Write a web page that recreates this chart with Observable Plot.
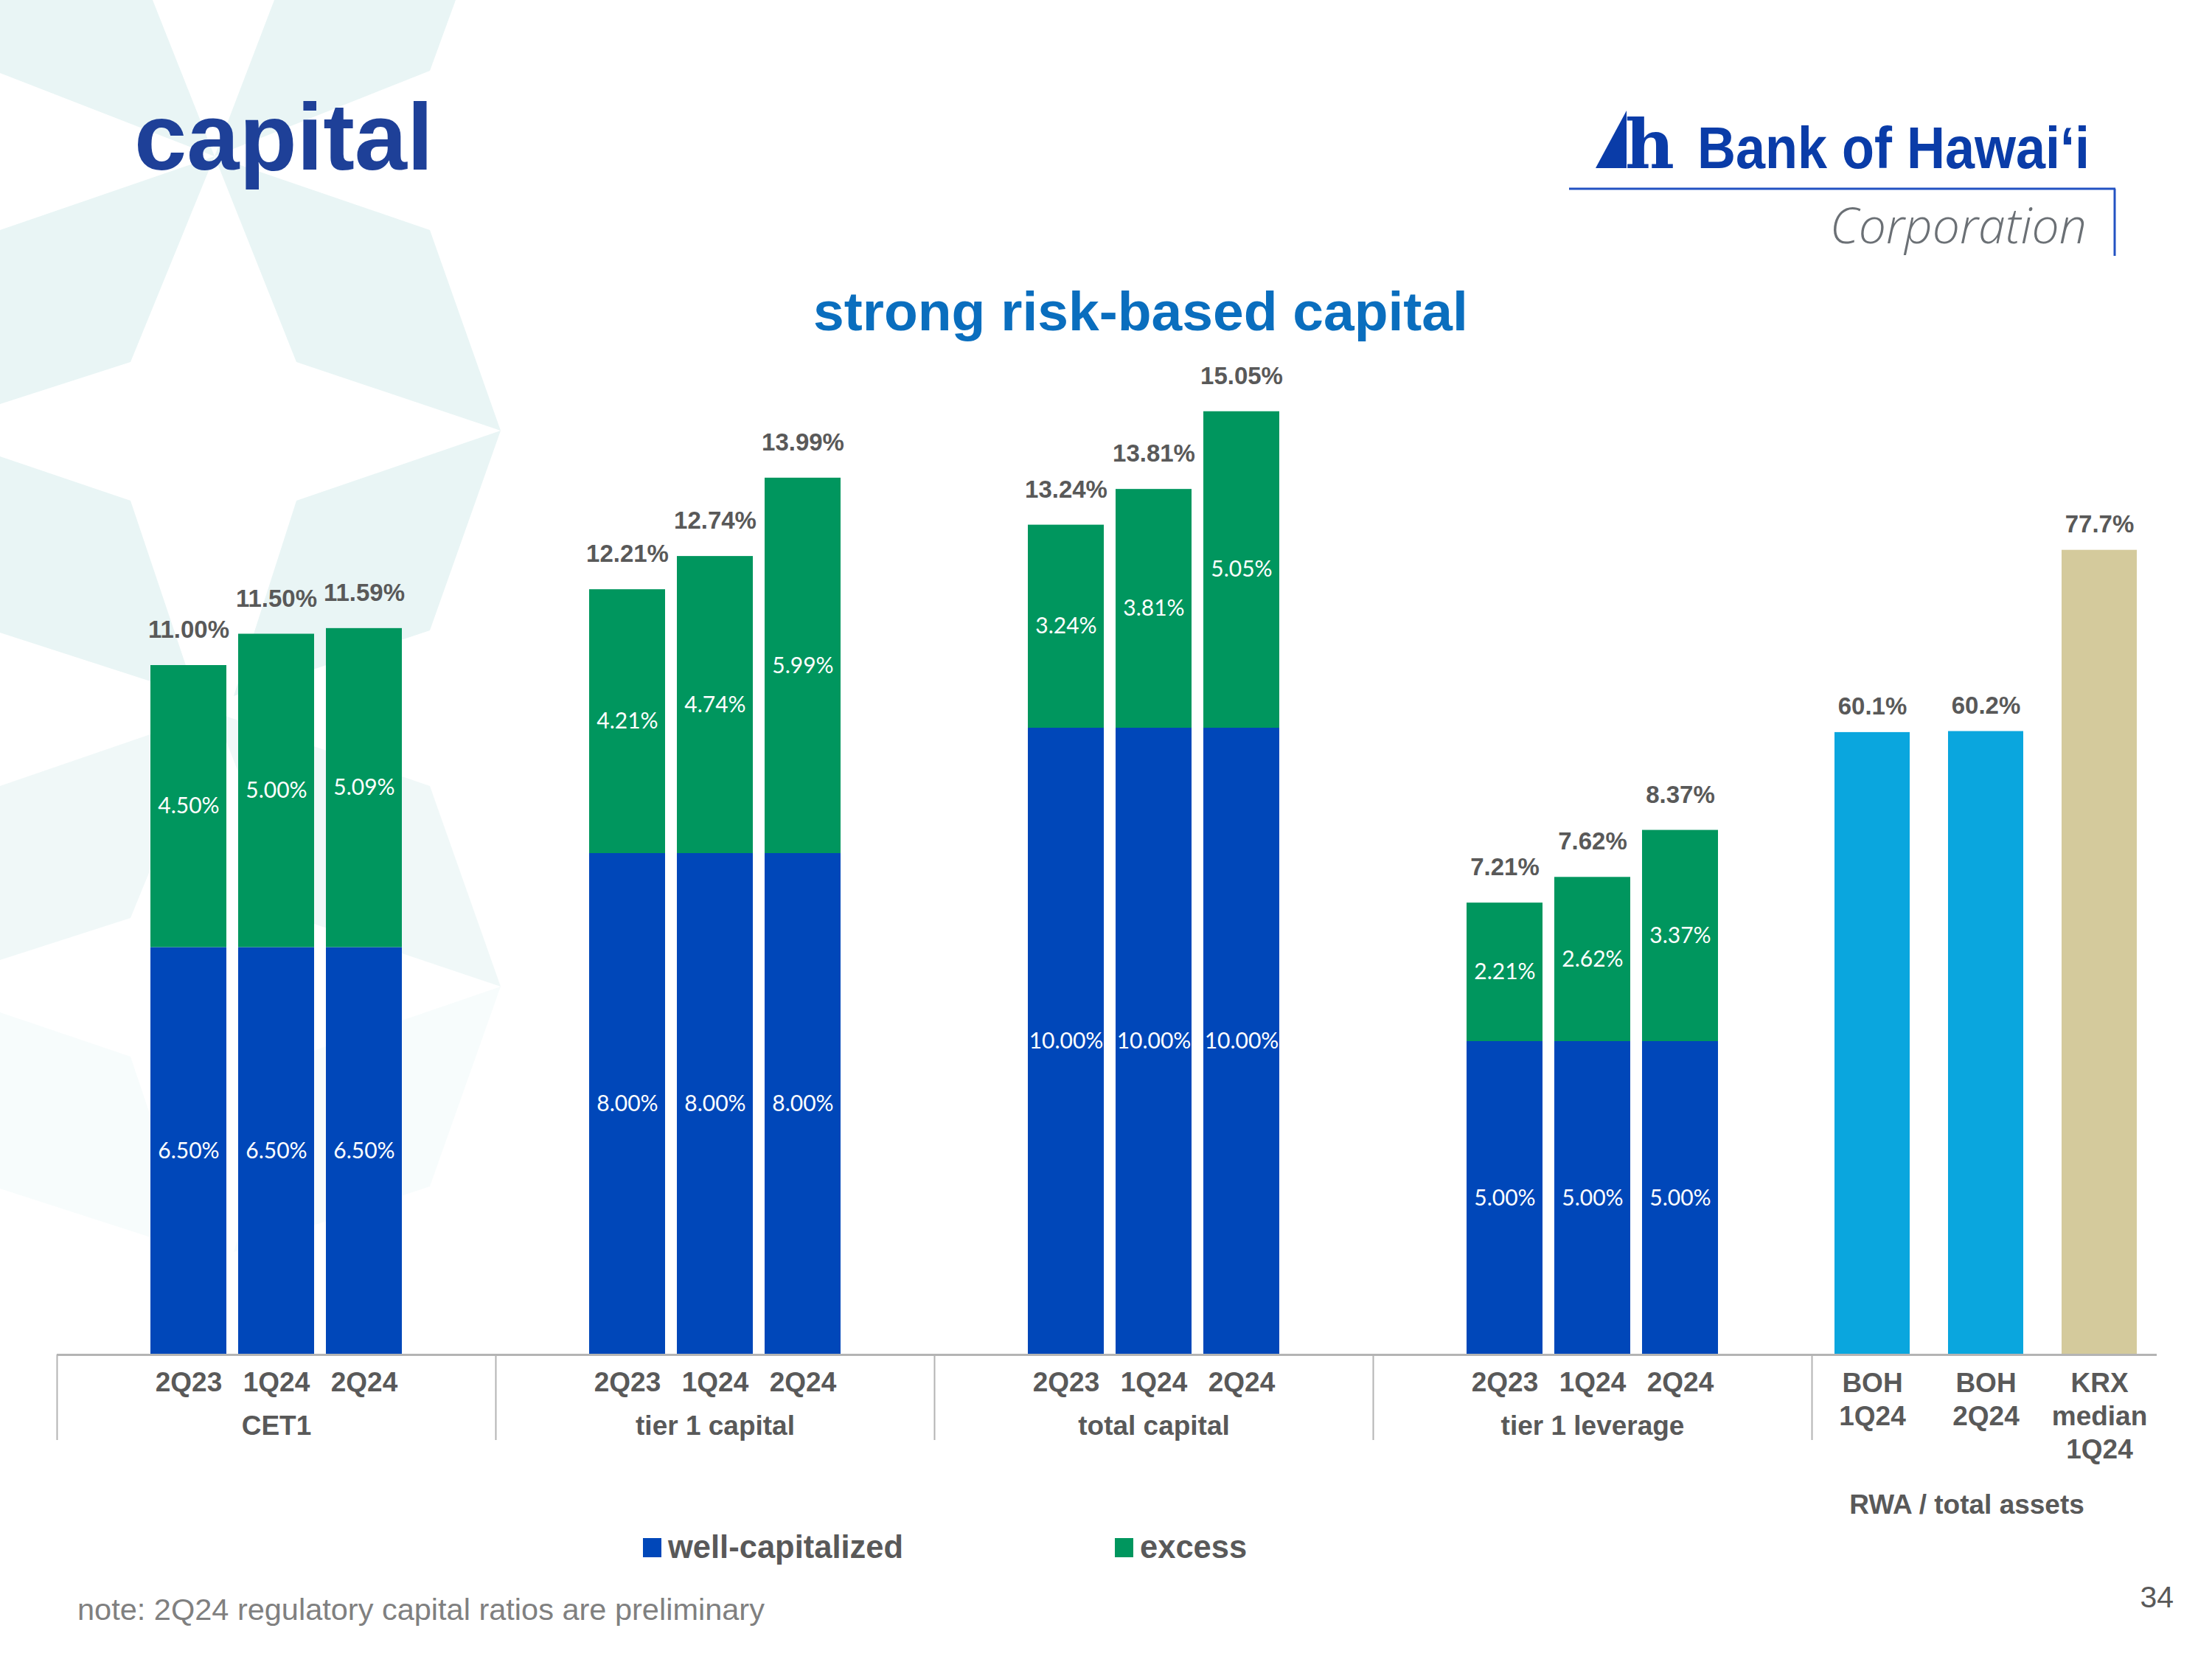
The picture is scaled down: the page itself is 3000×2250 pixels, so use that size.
<!DOCTYPE html>
<html>
<head>
<meta charset="utf-8">
<script src="https://cdn.jsdelivr.net/npm/d3@7"></script>
<script src="https://cdn.jsdelivr.net/npm/@observablehq/plot@0.6"></script>
<style>
  html, body { margin: 0; padding: 0; background: #ffffff; }
  #page { position: relative; width: 3000px; height: 2250px; overflow: hidden; background: #ffffff; font-family: "Liberation Sans", Arial, sans-serif; }
  #page > svg, #page > div { position: absolute; top: 0; }
  #deco { left: 0; top: 0; }
  #main { left: 0; }
  #rwa { left: 2458px; }
</style>
</head>
<body>
<div id="page">
  <svg id="deco" width="3000" height="2250" xmlns="http://www.w3.org/2000/svg"></svg>
  <div id="main"></div>
  <div id="rwa"></div>
</div>
<script>
// ---------------- data ----------------
const groups = ["CET1", "tier 1 capital", "total capital", "tier 1 leverage"];
const periods = ["2Q23", "1Q24", "2Q24"];
const seriesNames = ["well-capitalized", "excess"];
const seriesColors = ["#0047b9", "#00965e"];
const wellCapitalized = [
  [6.50, 6.50, 6.50],
  [8.00, 8.00, 8.00],
  [10.00, 10.00, 10.00],
  [5.00, 5.00, 5.00]
];
const excess = [
  [4.50, 5.00, 5.09],
  [4.21, 4.74, 5.99],
  [3.24, 3.81, 5.05],
  [2.21, 2.62, 3.37]
];
const totals = [
  [11.00, 11.50, 11.59],
  [12.21, 12.74, 13.99],
  [13.24, 13.81, 15.05],
  [7.21, 7.62, 8.37]
];
const rwaLabels = ["BOH\n1Q24", "BOH\n2Q24", "KRX\nmedian\n1Q24"];
const rwaValues = [60.1, 60.2, 77.7];
const rwaColors = ["#0aa6de", "#0aa6de", "#d4ca9c"];
const rwaTitle = "RWA / total assets";
const titleText = "capital";
const subtitleText = "strong risk-based capital";
const noteText = "note: 2Q24 regulatory capital ratios are preliminary";
const pageNumber = "34";

// ---------------- layout constants ----------------
const H = 2250;
const BASE = 1837;          // baseline of the bars
const MT = 477;             // top margin (y domain 0..16)
const MB = H - BASE;
const MAIN_W = 2458, MAIN_ML = 77;
const SLOT = (MAIN_W - MAIN_ML) / 20;
const GRAY = "#595959";
const AXIS = "#b4b4b4";
const RWA_RATIO = 6.052;    // secondary axis scale relative to main

const fmt2 = v => v.toFixed(2) + "%";
const fmt1 = v => v.toFixed(1) + "%";

// ---------------- table rows ----------------
const slots = groups.flatMap(g => ["pre", ...periods, "post"].map(p => g + "|" + p));
const rows = [];
seriesNames.forEach((s, k) => {
  const src = k === 0 ? wellCapitalized : excess;
  groups.forEach((g, i) => periods.forEach((p, j) => {
    rows.push({key: g + "|" + p, series: s, value: src[i][j]});
  }));
});
const totalRows = groups.flatMap((g, i) => periods.map((p, j) => ({key: g + "|" + p, period: p, total: totals[i][j]})));
const rwaRows = rwaLabels.map((l, i) => ({label: l, value: rwaValues[i], color: rwaColors[i]}));

const baseStyle = {background: "transparent", overflow: "visible", fontFamily: "'Liberation Sans', Arial, sans-serif"};

// ---------------- main chart ----------------
const main = Plot.plot({
  width: MAIN_W, height: H,
  marginTop: MT, marginBottom: MB, marginLeft: MAIN_ML, marginRight: 0,
  style: baseStyle,
  x: {type: "band", domain: slots, paddingInner: 0.134, paddingOuter: 0.067, axis: null},
  y: {domain: [0, 16], axis: null},
  color: {domain: seriesNames, range: seriesColors},
  marks: [
    Plot.barY(rows, {x: "key", y: "value", fill: "series"}),
    Plot.text(rows, Plot.stackY({x: "key", y: "value", text: d => fmt2(d.value), fill: "#ffffff",
      fontSize: 30, fontFamily: "Lato, 'Open Sans', sans-serif"})),
    Plot.text(totalRows, {x: "key", y: "total", text: d => fmt2(d.total), dy: -48,
      fontSize: 33, fontWeight: "bold", fill: GRAY}),
    Plot.ruleY([0], {stroke: AXIS, strokeWidth: 3}),
    Plot.ruleX(groups, {x: g => g + "|pre", dx: -SLOT / 2, y1: 0, y2: 0, insetBottom: -116, stroke: AXIS, strokeWidth: 2}),
    Plot.ruleX([groups[groups.length - 1]], {x: g => g + "|post", dx: SLOT / 2, y1: 0, y2: 0, insetBottom: -116, stroke: AXIS, strokeWidth: 2}),
    Plot.text(totalRows, {x: "key", text: "period", frameAnchor: "bottom", lineAnchor: "middle", dy: 38,
      fontSize: 37, fontWeight: "bold", fill: GRAY}),
    Plot.text(groups, {x: g => g + "|1Q24", text: d => d, frameAnchor: "bottom", lineAnchor: "middle", dy: 97,
      fontSize: 37, fontWeight: "bold", fill: GRAY})
  ]
});
document.getElementById("main").appendChild(main);

// ---------------- RWA chart ----------------
const rwa = Plot.plot({
  width: 3000 - MAIN_W, height: H,
  marginTop: MT, marginBottom: MB, marginLeft: 3, marginRight: 75,
  style: baseStyle,
  x: {type: "band", domain: rwaLabels, paddingInner: 0.335, paddingOuter: 0.1675, axis: null},
  y: {domain: [0, 16 * RWA_RATIO], axis: null},
  marks: [
    Plot.barY(rwaRows, {x: "label", y: "value", fill: "color"}),
    Plot.text(rwaRows, {x: "label", y: "value", text: d => fmt1(d.value), dy: -35,
      fontSize: 33, fontWeight: "bold", fill: GRAY}),
    Plot.ruleY([0], {stroke: AXIS, strokeWidth: 3, insetLeft: -3}),
    Plot.text(rwaRows, {x: "label", text: "label", frameAnchor: "bottom", lineAnchor: "top", dy: 19,
      lineHeight: 1.216, fontSize: 37, fontWeight: "bold", fill: GRAY}),
    Plot.text([rwaTitle], {text: d => d, frameAnchor: "bottom", lineAnchor: "middle", dx: -26, dy: 204,
      fontSize: 37, fontWeight: "bold", fill: GRAY})
  ]
});
document.getElementById("rwa").appendChild(rwa);

// ---------------- decoration: background star, title, logo, legend, note ----------------
const deco = d3.select("#deco");
const teal = "#e9f5f5";
const polys = [
  {o: 1, p: [[0,0],[207,0],[291,212],[0,99]]},
  {o: 1, p: [[372,0],[618,0],[583,96],[291,212]]},
  {o: 1, p: [[291,212],[583,312],[679,584],[402,491]]},
  {o: 1, p: [[0,312],[291,212],[177,491],[0,548]]},
  {o: 1, p: [[402,679],[679,584],[583,855],[317,944]]},
  {o: 1, p: [[0,619],[177,679],[266,944],[0,858]]},
  {o: 0.7, p: [[291,966],[583,1066],[679,1338],[402,1245]]},
  {o: 0.7, p: [[0,1066],[291,966],[177,1245],[0,1302]]},
  {o: 0.35, p: [[402,1433],[679,1338],[583,1609],[317,1698]]},
  {o: 0.35, p: [[0,1373],[177,1433],[266,1698],[0,1612]]}
];
deco.selectAll("polygon.bg").data(polys).join("polygon").attr("class", "bg")
  .attr("points", d => d.p.map(p => p.join(",")).join(" "))
  .attr("fill", teal).attr("opacity", d => d.o);

// title
deco.append("text").attr("x", 182).attr("y", 230).text(titleText)
  .attr("font-family", "'Liberation Sans', Arial, sans-serif").attr("font-weight", "bold")
  .attr("font-size", 128).attr("fill", "#1e4098");
// subtitle
deco.append("text").attr("x", 1547).attr("y", 448).attr("text-anchor", "middle").text(subtitleText)
  .attr("font-family", "'Liberation Sans', Arial, sans-serif").attr("font-weight", "bold")
  .attr("font-size", 75).attr("fill", "#0a6ebe");

// logo
const logoBlue = "#0a3ca8";
deco.append("polygon").attr("points", "2164,228 2206,228 2206,150").attr("fill", logoBlue);
deco.append("text").attr("x", 2204).attr("y", 228).text("h")
  .attr("font-family", "'DejaVu Serif', serif").attr("font-weight", "bold")
  .attr("font-size", 92).attr("fill", logoBlue);
deco.append("text").attr("transform", "translate(2302,228) scale(0.9,1)").text("Bank of Hawaiʻi")
  .attr("font-family", "'Liberation Sans', Arial, sans-serif").attr("font-weight", "bold")
  .attr("font-size", 80).attr("fill", logoBlue);
deco.append("line").attr("x1", 2128).attr("x2", 2869).attr("y1", 256).attr("y2", 256)
  .attr("stroke", "#2352c2").attr("stroke-width", 3);
deco.append("line").attr("x1", 2868).attr("x2", 2868).attr("y1", 256).attr("y2", 347)
  .attr("stroke", "#2352c2").attr("stroke-width", 3);
deco.append("text").attr("x", 2830).attr("y", 330).attr("text-anchor", "end").text("Corporation")
  .attr("font-family", "'Open Sans', sans-serif").attr("font-style", "italic").attr("font-weight", 300)
  .attr("font-size", 66).attr("fill", "#6b7075");

// legend
const legendX = [872, 1512];
seriesNames.forEach((s, i) => {
  deco.append("rect").attr("x", legendX[i]).attr("y", 2086).attr("width", 25).attr("height", 26)
    .attr("fill", seriesColors[i]);
  deco.append("text").attr("x", legendX[i] + 34).attr("y", 2113).text(s)
    .attr("font-family", "'Liberation Sans', Arial, sans-serif").attr("font-weight", "bold")
    .attr("font-size", 43.5).attr("fill", GRAY);
});

// note & page number
deco.append("text").attr("x", 105).attr("y", 2197).text(noteText)
  .attr("font-family", "'Liberation Sans', Arial, sans-serif")
  .attr("font-size", 41.5).attr("fill", "#808080");
deco.append("text").attr("x", 2948).attr("y", 2180).attr("text-anchor", "end").text(pageNumber)
  .attr("font-family", "'Liberation Sans', Arial, sans-serif")
  .attr("font-size", 41).attr("fill", GRAY);
</script>
</body>
</html>
